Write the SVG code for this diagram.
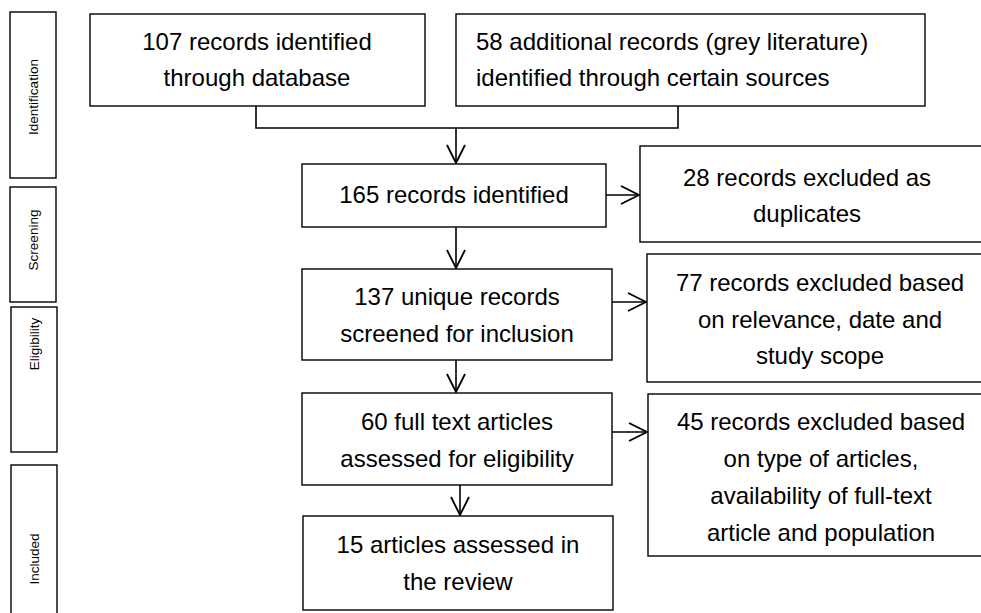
<svg xmlns="http://www.w3.org/2000/svg" width="981" height="613" viewBox="0 0 981 613">
<defs>
<style>
rect{fill:#fff;stroke:#000;stroke-width:1.4}
text{font-family:"Liberation Sans",Arial,sans-serif;fill:#000}
.t{font-size:24px;text-anchor:middle}
.l{font-size:24px}
.s{font-size:13.5px;text-anchor:middle}
.c{fill:none;stroke:#000;stroke-width:1.6}
</style>
<marker id="a" viewBox="0 0 20 20" refX="19" refY="10" markerWidth="20" markerHeight="20" markerUnits="userSpaceOnUse" orient="auto">
<path d="M1,1 L19,10 L1,19" fill="none" stroke="#000" stroke-width="1.8"/>
</marker>
</defs>
<rect width="981" height="613" style="fill:#fff;stroke:none"/>
<g id="stage-identification"><rect x="10" y="12" width="46" height="166"/><text class="s" transform="translate(38,97) rotate(-90)">Identification</text></g>
<g id="stage-screening"><rect x="10" y="187" width="46" height="115"/><text class="s" transform="translate(38,240) rotate(-90)">Screening</text></g>
<g id="stage-eligibility"><rect x="11" y="307" width="46" height="145"/><text class="s" transform="translate(39,344) rotate(-90)">Eligibility</text></g>
<g id="stage-included"><rect x="11" y="465" width="46" height="160"/><text class="s" transform="translate(39,559) rotate(-90)">Included</text></g>
<g id="n1"><rect x="90" y="14" width="335" height="92"/><text class="t" x="257" y="50">107 records identified</text><text class="t" x="257" y="86">through database</text></g>
<g id="n2"><rect x="456" y="14" width="469" height="92"/><text class="l" x="476" y="50">58 additional records (grey literature)</text><text class="l" x="476" y="86">identified through certain sources</text></g>
<g id="n3"><rect x="302" y="164" width="304" height="63"/><text class="t" x="454" y="203">165 records identified</text></g>
<g id="n4"><rect x="640" y="146" width="350" height="96"/><text class="t" x="807" y="186">28 records excluded as</text><text class="t" x="807" y="222">duplicates</text></g>
<g id="n5"><rect x="302" y="269" width="310" height="91"/><text class="t" x="457" y="305">137 unique records</text><text class="t" x="457" y="342">screened for inclusion</text></g>
<g id="n6"><rect x="647" y="254" width="345" height="128"/><text class="t" x="820" y="291">77 records excluded based</text><text class="t" x="820" y="328">on relevance, date and</text><text class="t" x="820" y="364">study scope</text></g>
<g id="n7"><rect x="302" y="393" width="310" height="92"/><text class="t" x="457" y="430">60 full text articles</text><text class="t" x="457" y="467">assessed for eligibility</text></g>
<g id="n8"><rect x="648" y="394" width="345" height="162"/><text class="t" x="821" y="430">45 records excluded based</text><text class="t" x="821" y="467">on type of articles,</text><text class="t" x="821" y="504">availability of full-text</text><text class="t" x="821" y="541">article and population</text></g>
<g id="n9"><rect x="303" y="516" width="310" height="94"/><text class="t" x="458" y="553">15 articles assessed in</text><text class="t" x="458" y="590">the review</text></g>
<g id="connectors">
<path class="c" d="M256,106 V128 H678 V106"/>
<path class="c" d="M456,128 V163" marker-end="url(#a)"/>
<path class="c" d="M606,195 H639" marker-end="url(#a)"/>
<path class="c" d="M456,227 V268" marker-end="url(#a)"/>
<path class="c" d="M612,302 H646" marker-end="url(#a)"/>
<path class="c" d="M456,360 V392" marker-end="url(#a)"/>
<path class="c" d="M612,432 H647" marker-end="url(#a)"/>
<path class="c" d="M460,485 V515" marker-end="url(#a)"/>
</g>
</svg>
